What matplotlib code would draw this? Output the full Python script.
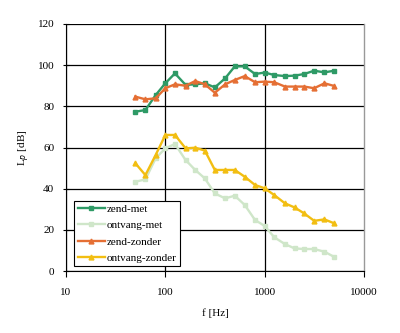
import numpy as np
import matplotlib
matplotlib.use("Agg")
import matplotlib.pyplot as plt
from matplotlib.ticker import FixedLocator, NullLocator

plt.rcParams['font.family'] = ['Liberation Serif', 'DejaVu Serif']

# third-octave band centre frequencies
freq = [50, 63, 80, 100, 125, 160, 200, 250, 315, 400, 500,
        630, 800, 1000, 1250, 1600, 2000, 2500, 3150, 4000, 5000]

zend_met = [77.4, 78.2, 85.5, 91.2, 96.0, 90.4, 90.7, 91.2, 89.2, 93.6, 99.4,
            99.4, 95.7, 96.4, 95.2, 94.7, 94.9, 95.7, 97.3, 96.5, 97.3]
ontvang_met = [43.4, 44.5, 54.8, 59.6, 61.7, 53.9, 49.1, 45.0, 37.7, 35.3, 36.6,
               32.1, 24.8, 21.9, 16.4, 13.1, 11.0, 10.7, 10.7, 9.4, 6.9]
zend_zonder = [84.7, 83.4, 83.9, 88.8, 90.7, 90.0, 92.3, 90.7, 86.6, 90.7, 92.8,
               94.7, 91.7, 92.0, 91.7, 89.6, 89.6, 89.6, 88.8, 91.2, 89.9]
ontvang_zonder = [52.3, 46.6, 56.4, 66.1, 66.1, 59.6, 59.9, 58.5, 49.1, 49.1, 49.1,
                  45.8, 41.8, 40.2, 36.9, 32.9, 30.9, 28.0, 24.4, 25.1, 23.2]

labels = ['zend-met', 'ontvang-met', 'zend-zonder', 'ontvang-zonder']
colors = ['#2E9A66', '#CFE6C9', '#E56F34', '#F2BE12']
markers = ['s', 's', '^', '^']

fig = plt.figure(figsize=(4.0, 3.33), dpi=100)
ax = fig.add_axes([0.165, 0.186, 0.745, 0.742])

for ys, lab, c, m in zip([zend_met, ontvang_met, zend_zonder, ontvang_zonder],
                         labels, colors, markers):
    ax.plot(freq, ys, color=c, marker=m, markersize=3.5, linewidth=1.7, label=lab)

ax.set_xscale('log')
ax.set_xlim(10, 10000)
ax.set_ylim(0, 120)
ax.xaxis.set_major_locator(FixedLocator([10, 100, 1000, 10000]))
ax.xaxis.set_minor_locator(NullLocator())
ax.set_xticklabels(['10', '100', '1000', '10000'])
ax.set_yticks(np.arange(0, 121, 20))
ax.grid(True, color='black', linewidth=0.9)
ax.set_axisbelow(True)
# no black gridline on the right border
ax.xaxis.get_gridlines()[-1].set_visible(False)

ax.spines['top'].set_visible(False)
ax.spines['right'].set_color('#999999')
ax.spines['right'].set_linewidth(1.0)
ax.spines['left'].set_linewidth(0.8)
ax.spines['bottom'].set_linewidth(0.8)
ax.tick_params(axis='y', labelsize=8, length=5, width=0.8, direction='inout', pad=6)
ax.tick_params(axis='x', labelsize=8, length=4, width=0.8, direction='out', pad=8)

ax.set_xlabel('f [Hz]', fontsize=8, labelpad=8)
ax.set_ylabel('L$_p$ [dB]', fontsize=8)

leg = ax.legend(loc='lower left', fontsize=8, frameon=True, fancybox=False,
                edgecolor='black', framealpha=1, handlelength=2.5,
                borderaxespad=0.2, labelspacing=0.6, handletextpad=0.1,
                borderpad=0.3, bbox_to_anchor=(0.02, 0.01))
leg.get_frame().set_linewidth(0.8)

fig.savefig('out.png', dpi=100, facecolor='white')
